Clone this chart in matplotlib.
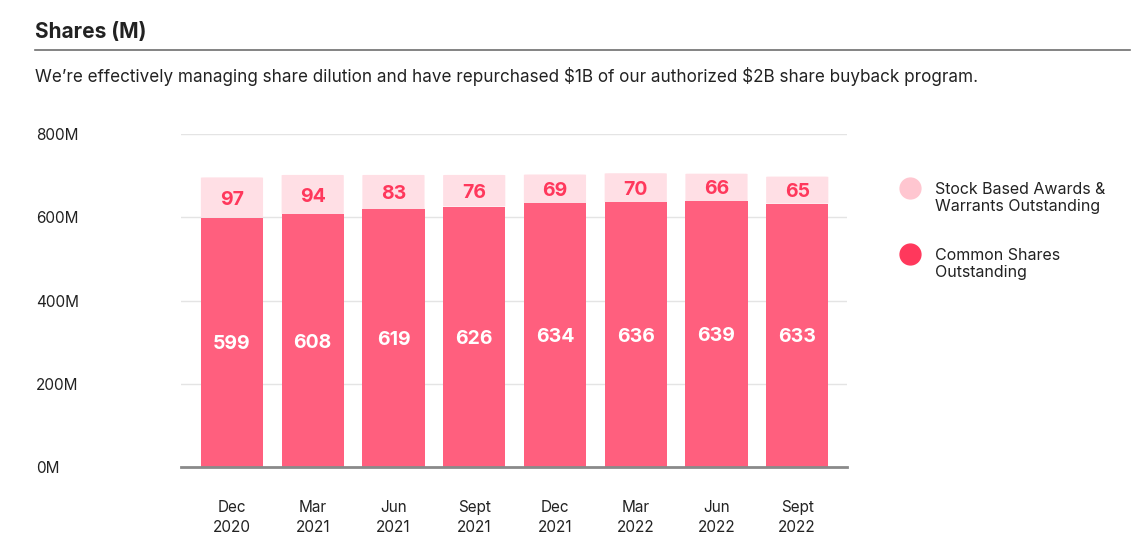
import numpy as np
import matplotlib.pyplot as plt
from matplotlib.lines import Line2D
from matplotlib.patches import FancyBboxPatch

plt.rcParams['font.family'] = ['Inter', 'DejaVu Sans']

periods = ["Dec\n2020", "Mar\n2021", "Jun\n2021", "Sept\n2021",
           "Dec\n2021", "Mar\n2022", "Jun\n2022", "Sept\n2022"]
common = [599, 608, 619, 626, 634, 636, 639, 633]
awards = [97, 94, 83, 76, 69, 70, 66, 65]
yticks = [0, 200, 400, 600, 800]

c_common = "#FF5F7E"
c_awards = "#FFDFE5"
c_label = "#FF385C"
c_text = "#222222"

fig = plt.figure(figsize=(11.45, 5.52), dpi=100)
ax = fig.add_axes([0.158, 0.154, 0.582, 0.603])

x = np.arange(len(periods))
w = 0.77
ax.bar(x, common, width=w, color=c_common, zorder=3)
for xi, c, a in zip(x, common, awards):
    # rounded top segment
    p = FancyBboxPatch((xi - w / 2, c), w, a,
                       boxstyle="round,pad=0,rounding_size=0.06",
                       mutation_aspect=12, facecolor=c_awards,
                       edgecolor="none", zorder=2)
    ax.add_patch(p)
    ax.text(xi, c / 2 - 5, str(c), ha="center", va="center", color="white",
            fontsize=14, fontweight="bold", zorder=4)
    ax.text(xi, c + a / 2 - 5, str(a), ha="center", va="center", color=c_label,
            fontsize=14, fontweight="bold", zorder=4)

ax.set_xlim(-0.632, 7.62)
ax.set_ylim(0, 800)
ax.set_yticks(yticks)
ax.set_yticklabels([f"{v}M" for v in yticks])
ax.set_xticks(x)
ax.set_xticklabels(periods, linespacing=1.35)
ax.grid(axis="y", color="#E4E4E4", linewidth=1, zorder=0)
for s in ["top", "right", "left"]:
    ax.spines[s].set_visible(False)
ax.spines["bottom"].set_color("#8A8A8A")
ax.spines["bottom"].set_linewidth(2)
ax.spines["bottom"].set_zorder(5)
ax.tick_params(axis="y", length=0, pad=0, labelsize=11, labelcolor=c_text)
for lbl in ax.get_yticklabels():
    lbl.set_horizontalalignment("left")
    lbl.set_x(-0.218)
ax.tick_params(axis="x", length=0, pad=24, labelsize=11, labelcolor=c_text)

fig.text(0.031, 0.942, "Shares (M)", fontsize=15, fontweight="bold",
         color=c_text, va="center")
fig.add_artist(Line2D([0.031, 0.987], [0.909, 0.909], color="#6E6E6E",
                      linewidth=1.2, transform=fig.transFigure))
fig.text(0.031, 0.862,
         "We\u2019re effectively managing share dilution and have repurchased \\$1B of our authorized \\$2B share buyback program.",
         fontsize=12.3, color=c_text, va="center")

# legend
legend_items = [("Stock Based Awards &\nWarrants Outstanding", "#FFC6D0", 188),
                ("Common Shares\nOutstanding", c_label, 254)]
for label, col, ypx in legend_items:
    yf = 1 - ypx / 552
    fig.add_artist(Line2D([910 / 1145], [yf], marker="o", markersize=15,
                          color=col, linestyle="none",
                          transform=fig.transFigure))
    fig.text(935 / 1145, 1 - (ypx + 10) / 552, label, fontsize=11.5,
             color=c_text, va="center", linespacing=1.25)

fig.savefig("out.png", dpi=100)
